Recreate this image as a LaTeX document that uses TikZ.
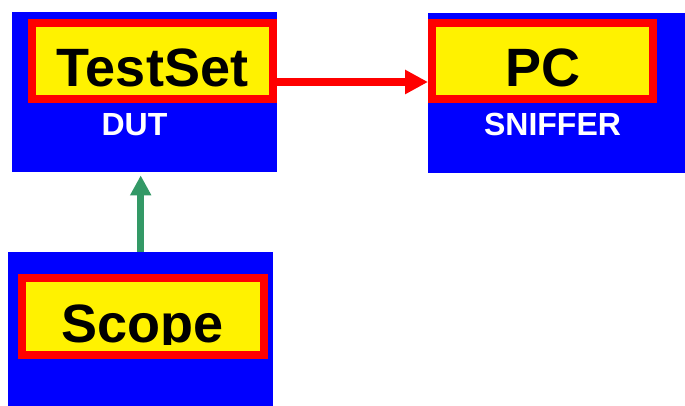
\documentclass[tikz,border=0pt]{standalone}
\usepackage{fontspec}
\setmainfont{Liberation Sans}
\usetikzlibrary{arrows.meta}
\definecolor{linkgreen}{RGB}{51,153,102}

\begin{document}
\begin{tikzpicture}[x=1pt,y=-1pt,
    bluebox/.style={fill=blue,inner sep=0,anchor=north west},
    redframe/.style={draw=red,fill=yellow,line width=8pt,inner sep=0,anchor=north west},
    titletext/.style={font=\bfseries\fontsize{54}{54}\selectfont,inner sep=0,anchor=base},
    subtext/.style={font=\bfseries\fontsize{32}{32}\selectfont,text=white,inner sep=0,anchor=base}]
    \useasboundingbox (0,0) rectangle (685,406);
    % blue boxes
    \node[bluebox,minimum width=265pt,minimum height=160pt] (dut) at (12,12) {};
    \node[bluebox,minimum width=257pt,minimum height=160pt] (sniffer) at (428,13) {};
    \node[bluebox,minimum width=265pt,minimum height=154pt] (scope) at (8,252) {};
    % red framed labels
    \node[redframe,minimum width=241pt,minimum height=76pt] (ts) at (28,19) {};
    \node[redframe,minimum width=221pt,minimum height=76pt] (pc) at (428,19) {};
    \node[redframe,minimum width=242pt,minimum height=77pt] (sc) at (18,274) {};
    \node[titletext] (tstext) at (152.5,87) {TestSet};
    \node[titletext] (pctext) at (542.5,87) {PC};
    \begin{scope}
      \clip (26,282) rectangle (259,344);
      \node[titletext] (sctext) at (142.5,342) {Scope};
    \end{scope}
    \node[subtext] (duttext) at (134.5,136) {DUT};
    \node[subtext] (snifftext) at (552.5,136) {SNIFFER};
    % connectors
    \draw[red,line width=8pt,-{Triangle[length=23pt,width=23pt]}]
      ([yshift=-21pt]ts.east) -- ([yshift=-21pt]pc.west);
    \draw[linkgreen,line width=6.5pt,shorten >=3pt,-{Triangle[length=20pt,width=20pt]}]
      (scope.north) -- (scope.north |- dut.south);
\end{tikzpicture}
\end{document}
